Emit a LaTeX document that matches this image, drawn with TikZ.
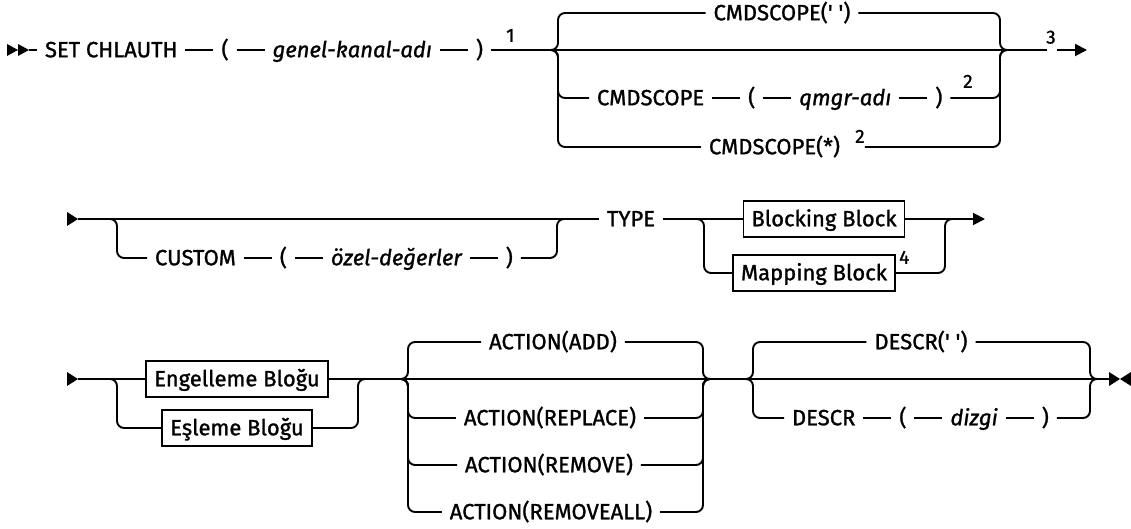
\documentclass[tikz,border=0pt]{standalone}
\usepackage{fontspec}
\setmainfont{Fira Sans}[FakeBold=1.2]
\usetikzlibrary{arrows.meta, positioning}

\tikzset{
  rail/.style={line width=1.9pt, rounded corners=7pt},
  kw/.style={inner xsep=8pt, inner ysep=0pt, outer sep=0pt, text height=19pt, text depth=4.5pt,
    font=\fontsize{22}{26}\selectfont},
  var/.style={kw, font=\fontsize{22}{26}\selectfont\itshape},
  blk/.style={kw, draw, line width=1.8pt, inner xsep=8pt, inner ysep=6.5pt},
  fn/.style={inner sep=0pt, anchor=south west, font=\fontsize{19}{21}\selectfont},
  tip/.style={-{Triangle[length=12pt,width=12pt]}},
}

\begin{document}
\begin{tikzpicture}[x=1pt, y=-1pt, node distance=28pt]
    \useasboundingbox (0,0) rectangle (1131,529);

    % linha 1: SET CHLAUTH ( nome ) + CMDSCOPE
    \fill (7,44) -- (18,50) -- (7,56) -- cycle;
    \fill (18,44) -- (29,50) -- (18,56) -- cycle;
    \coordinate (a1) at (29,50);
    \node[kw, anchor=west] (set) at (37,50) {SET CHLAUTH};
    \node[kw, right=of set] (lp1) {(};
    \node[var, right=of lp1] (chname) {genel-kanal-adı\ };
    \node[kw, right=of chname] (rp1) {)};
    \node[fn] (n1) at (506,42) {1};
    \draw[rail] (a1) -- (set.west);
    \draw[rail] (set.east) -- (lp1.west);
    \draw[rail] (lp1.east) -- (chname.west);
    \draw[rail] (chname.east) -- (rp1.west);
    \coordinate (s1l) at (551,50);
    \coordinate (s1r) at (1006,50);
    \coordinate (g3) at (1047,50);
    \draw[rail] (rp1.east) -- (g3);
    \node[fn] (n3) at (1046,44) {3};
    \coordinate (g3b) at (1057,50);
    \coordinate (e1) at (1087,50);
    \draw[rail, tip] (g3b) -- (e1);

    \node[kw] (sc1) at (782,13) {CMDSCOPE(\textquotesingle\ \textquotesingle)};
    \draw[rail] (s1l) -| (558,13) -- (sc1.west);
    \draw[rail] (sc1.east) -| (1000,50) -- (s1r);

    \node[kw, anchor=west] (sc2) at (589,98) {CMDSCOPE};
    \node[kw, right=of sc2] (lp2) {(};
    \node[var, right=of lp2] (qm) {qmgr-adı};
    \node[kw, right=of qm] (rp2) {)};
    \node[fn] (n2a) at (963,88) {2};
    \draw[rail] (s1l) -| (558,98) -- (sc2.west);
    \draw[rail] (sc2.east) -- (lp2.west);
    \draw[rail] (lp2.east) -- (qm.west);
    \draw[rail] (qm.east) -- (rp2.west);
    \draw[rail] (rp2.east) -| (1000,50) -- (s1r);

    \node[kw, anchor=east] (sc3) at (848,147) {CMDSCOPE(*)};
    \node[fn] (n2b) at (855,143) {2};
    \draw[rail] (s1l) -| (558,147) -- (sc3.west);
    \draw[rail] (sc3.east -| n2b.east) -| (1000,50) -- (s1r);

    % linha 2: CUSTOM + TYPE
    \fill (67,212) -- (78,219) -- (67,226) -- cycle;
    \coordinate (a2) at (78,219);
    \coordinate (c2l) at (110,219);
    \coordinate (c2r) at (564,219);
    \node[kw, anchor=west] (type) at (599,219) {TYPE};
    \draw[rail] (a2) -- (type.west);
    \node[kw, anchor=west] (cus) at (147,258) {CUSTOM};
    \node[kw, right=of cus] (lp3) {(};
    \node[var, right=of lp3] (val) {özel-değerler\ };
    \node[kw, right=of val] (rp3) {)};
    \draw[rail] (c2l) -| (117,258) -- (cus.west);
    \draw[rail] (cus.east) -- (lp3.west);
    \draw[rail] (lp3.east) -- (val.west);
    \draw[rail] (val.east) -- (rp3.west);
    \draw[rail] (rp3.east) -| (557,219) -- (c2r);

    \coordinate (t1l) at (697,219);
    \coordinate (t1r) at (952,219);
    \coordinate (e2) at (985,219);
    \node[blk] (blkb) at (824,219) {Blocking Block};
    \node[blk] (mapb) at (814,273) {Mapping Block};
    \node[fn] (n4) at (899,264) {4};
    \draw[rail] (type.east) -- (blkb.west);
    \draw[rail, tip] (blkb.east) -- (e2);
    \draw[rail] (t1l) -| (704,273) -- (mapb.west);
    \draw[rail] (mapb.east) -| (945,219) -- (t1r);

    % linha 3: bloco + ACTION + DESCR
    \fill (67,372) -- (78,379) -- (67,386) -- cycle;
    \coordinate (a3) at (78,379);
    \coordinate (b1l) at (110,379);
    \coordinate (b1r) at (367,379);
    \coordinate (fin) at (1109,379);
    \node[blk] (eng) at (237,379) {Engelleme Bloğu};
    \node[blk] (esl) at (237,428) {Eşleme Bloğu};
    \draw[rail] (a3) -- (eng.west);
    \draw[rail] (eng.east) -- (fin);
    \draw[rail] (b1l) -| (117,428) -- (esl.west);
    \draw[rail] (esl.east) -| (358,379) -- (b1r);
    \fill (1109,372) -- (1120,379) -- (1109,386) -- cycle;
    \fill (1131,372) -- (1120,379) -- (1131,386) -- cycle;

    \coordinate (x1l) at (400,379);
    \coordinate (x1r) at (711,379);
    \node[kw] (add) at (553,342) {ACTION(ADD)};
    \node[kw] (rep) at (550,418) {ACTION(REPLACE)};
    \node[kw] (rem) at (549,465) {ACTION(REMOVE)};
    \node[kw] (rall) at (551,512) {ACTION(REMOVEALL)};
    \draw[rail] (x1l) -| (408,342) -- (add.west);
    \draw[rail] (add.east) -| (703,379) -- (x1r);
    \draw[rail] (x1l) -| (408,418) -- (rep.west);
    \draw[rail] (rep.east) -| (703,379) -- (x1r);
    \draw[rail] (x1l) -| (408,465) -- (rem.west);
    \draw[rail] (rem.east) -| (703,379) -- (x1r);
    \draw[rail] (x1l) -| (408,512) -- (rall.west);
    \draw[rail] (rall.east) -| (703,379) -- (x1r);

    \coordinate (d1l) at (747,379);
    \coordinate (d1r) at (1097,379);
    \node[kw] (dsc1) at (921,342) {DESCR(\textquotesingle\ \textquotesingle)};
    \draw[rail] (d1l) -| (753,342) -- (dsc1.west);
    \draw[rail] (dsc1.east) -| (1090,379) -- (d1r);
    \node[kw, anchor=west] (dsc2) at (784,418) {DESCR};
    \node[kw, right=of dsc2] (lp4) {(};
    \node[var, right=of lp4] (str) {dizgi};
    \node[kw, right=of str] (rp4) {)};
    \draw[rail] (d1l) -| (753,418) -- (dsc2.west);
    \draw[rail] (dsc2.east) -- (lp4.west);
    \draw[rail] (lp4.east) -- (str.west);
    \draw[rail] (str.east) -- (rp4.west);
    \draw[rail] (rp4.east) -| (1090,379) -- (d1r);
\end{tikzpicture}
\end{document}
